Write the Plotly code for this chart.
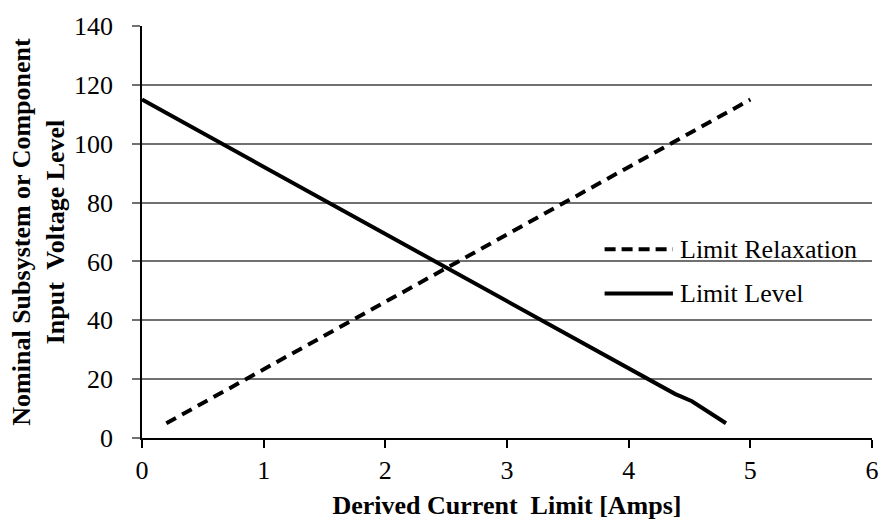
import plotly.graph_objects as go

# Data
relax_x = [0.2, 5.0]
relax_y = [5, 115]
level_x = [0.0, 4.38, 4.52, 4.8]
level_y = [115, 15, 12.5, 5]

x_ticks = [0, 1, 2, 3, 4, 5, 6]
y_ticks = [0, 20, 40, 60, 80, 100, 120, 140]

series_names = ["Limit Relaxation", "Limit Level"]

FONT = "Liberation Serif"

fig = go.Figure()
fig.add_trace(go.Scatter(x=relax_x, y=relax_y, mode="lines", name=series_names[0],
                         line=dict(color="black", width=4, dash="11px,7px"),
                         showlegend=False))
fig.add_trace(go.Scatter(x=level_x, y=level_y, mode="lines", name=series_names[1],
                         line=dict(color="black", width=4),
                         showlegend=False))

# Manual legend (line samples + labels)
leg_x0, leg_x1, leg_tx = 0.6337, 0.7273, 0.734
leg_ys = [0.458, 0.351]
dashes = ["11px,6px", "solid"]
for name, ly, d in zip(series_names, leg_ys, dashes):
    fig.add_shape(type="line", xref="paper", yref="paper",
                  x0=leg_x0, x1=leg_x1, y0=ly, y1=ly,
                  line=dict(color="black", width=4, dash=d))
    fig.add_annotation(xref="paper", yref="paper", x=leg_tx, y=ly,
                       text=name, showarrow=False, xanchor="left", yanchor="middle",
                       font=dict(family=FONT, size=26, color="black"))

fig.update_layout(
    width=891, height=527,
    margin=dict(l=142, r=12, t=21, b=87),
    paper_bgcolor="white", plot_bgcolor="white",
    font=dict(family=FONT, size=26, color="black"),
    xaxis=dict(
        range=[0, 6], tickvals=x_ticks, ticktext=[str(v) for v in x_ticks],
        showgrid=False, zeroline=False,
        showline=True, linecolor="black", linewidth=1.5,
        ticks="outside", ticklen=8, tickwidth=1.5, tickcolor="black",
        tickfont=dict(family=FONT, size=26, color="black"),
        title=dict(text="<b>Derived Current\u00a0 Limit [Amps]</b>",
                   font=dict(family=FONT, size=26, color="black"), standoff=12),
        fixedrange=True,
    ),
    yaxis=dict(
        range=[0, 140], tickvals=y_ticks, ticktext=[str(v) for v in y_ticks],
        showgrid=True, gridcolor="#707070", gridwidth=1.5,
        zeroline=False,
        showline=True, linecolor="black", linewidth=1.5,
        ticks="outside", ticklen=8, tickwidth=1.5, tickcolor="#707070",
        ticklabelstandoff=14,
        tickfont=dict(family=FONT, size=26, color="black"),
        title=dict(text="<b>Nominal Subsystem or Component<br>Input\u00a0 Voltage Level</b>",
                   font=dict(family=FONT, size=26, color="black"), standoff=2),
        fixedrange=True,
    ),
)

fig.write_html("out.html")
